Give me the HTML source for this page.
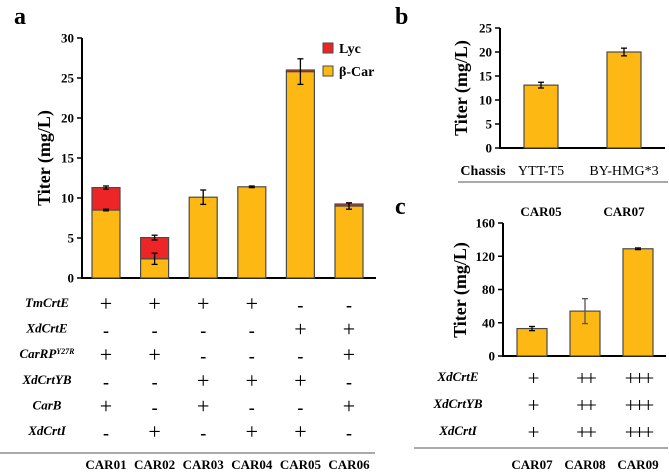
<!DOCTYPE html>
<html><head><meta charset="utf-8"><style>
html,body{margin:0;padding:0;background:#fff;}
svg{display:block;font-family:"Liberation Serif",serif;}
</style></head><body>
<svg id="s" width="669" height="476" viewBox="0 0 669 476"></svg>
<script>
// Panel a data
const aCats = ['CAR01','CAR02','CAR03','CAR04','CAR05','CAR06'];
const aCar = [8.5, 2.4, 10.1, 11.4, 25.8, 9.0];
const aLyc = [2.8, 2.65, 0, 0, 0.2, 0.25];
const aCarErr = [0.1, 0.7, 0.9, 0.1, 1.6, 0.4];
const aLycErr = [0.2, 0.3, 0, 0, 0, 0];
const aTicks = [0,5,10,15,20,25,30];
const aGenes = ['TmCrtE','XdCrtE','CarRP','XdCrtYB','CarB','XdCrtI'];
const aSigns = [['+','+','+','+','-','-'],['-','-','-','-','+','+'],['+','+','-','-','-','+'],['-','-','+','+','+','-'],['+','-','+','-','-','+'],['-','+','-','+','+','-']];
// Panel b data
const bCats = ['YTT-T5','BY-HMG*3'];
const bStrains = ['CAR05','CAR07'];
const bVals = [13.1, 20.0];
const bErr = [0.6, 0.8];
const bTicks = [0,5,10,15,20,25];
// Panel c data
const cCats = ['CAR07','CAR08','CAR09'];
const cVals = [33, 54, 129];
const cErr = [2.5, 15, 1];
const cTicks = [0,40,80,120,160];
const cGenes = ['XdCrtE','XdCrtYB','XdCrtI'];
const cSigns = [['+','++','+++'],['+','++','+++'],['+','++','+++']];

const S = document.getElementById('s');
const NS = 'http://www.w3.org/2000/svg';
function mk(tag, attrs, parent){const e=document.createElementNS(NS,tag);for(const k in attrs)e.setAttribute(k,attrs[k]);(parent||S).appendChild(e);return e;}
function txt(str, attrs, parent){const e=mk('text',attrs,parent);e.textContent=str;return e;}
const GOLD='#FDB813', RED='#EE2527', EDGE='#4a4a4a';

function axis(x0, y0, x1, yTop, ticks, max, name){
  const g=mk('g',{});
  
  
  const sy=v=>y0-(y0-yTop)*v/max;
  mk('line',{x1:x0,y1:yTop,x2:x0,y2:y0,stroke:'#000','stroke-width':2},g);
  mk('line',{x1:x0-1,y1:y0,x2:x1,y2:y0,stroke:'#000','stroke-width':2},g);
  ticks.forEach(t=>{
    mk('line',{x1:x0-5,y1:sy(t),x2:x0,y2:sy(t),stroke:'#000','stroke-width':1.5},g);
    const l=txt(String(t),{x:x0-8,y:sy(t)+4.5,'text-anchor':'end','font-size':13,'font-weight':'bold'},g);
    
    
  });
  return sy;
}
function ylabel(x,y,name){
  const t=txt('Titer (mg/L)',{x:x,y:y,'text-anchor':'middle','font-size':18,'font-weight':'bold',transform:`rotate(-90 ${x} ${y})`});
  
  
}
function errbar(cx,v,e,sy,col){
  if(e<=0.05){mk('line',{x1:cx-3,y1:sy(v),x2:cx+3,y2:sy(v),stroke:col||'#000','stroke-width':2});return;}
  const g=mk('g',{stroke:col||'#000','stroke-width':1.3});
  
  
  mk('line',{x1:cx,y1:sy(v+e),x2:cx,y2:sy(v-e)},g);
  mk('line',{x1:cx-3,y1:sy(v+e),x2:cx+3,y2:sy(v+e)},g);
  mk('line',{x1:cx-3,y1:sy(v-e),x2:cx+3,y2:sy(v-e)},g);
}
function bar(x,w,v0,v1,sy,fill,name){
  const r=mk('rect',{x:x,y:sy(v1),width:w,height:sy(v0)-sy(v1),fill:fill,stroke:EDGE,'stroke-width':1.2});
  
  
}

// ---- Panel a
let pl=txt('a',{x:14,y:24,'font-size':24,'font-weight':'bold'});

const syA=axis(82,278,376,38,aTicks,30,'panel-a');
ylabel(50,158,'panel-a-y-axis-title');
const aStep=48.6, aX0=106, aW=28;
aCats.forEach((c,i)=>{
  const cx=aX0+aStep*i;
  bar(cx-aW/2,aW,0,aCar[i],syA,GOLD,'bar-bcar-'+c.toLowerCase());
  if(aLyc[i]>0) bar(cx-aW/2,aW,aCar[i],aCar[i]+aLyc[i],syA,RED,'bar-lyc-'+c.toLowerCase());
  if(aLycErr[i]>0) errbar(cx,aCar[i]+aLyc[i],aLycErr[i],syA);
  errbar(cx,aCar[i],aCarErr[i],syA);
  const l=txt(c,{x:cx,y:469,'text-anchor':'middle','font-size':13,'font-weight':'bold'});
  
  aSigns.forEach((row,r)=>{
    const s=txt(row[i],{x:cx,y:311+r*25.6,'text-anchor':'middle','font-size':row[i]=='+'?22:18,'font-weight':row[i]=='-'?'bold':'normal'});
    
  });
});
aGenes.forEach((g,r)=>{
  const t=txt('',{x:47,y:307+r*25.6,'text-anchor':'middle','font-size':13,'font-weight':'bold','font-style':'italic'});
  t.textContent=g;
  if(g==='CarRP'){const ts=mk('tspan',{'font-size':8,dy:-4},t);ts.textContent='Y27R';}
  
});
mk('line',{x1:0,y1:453,x2:375,y2:453,stroke:'#555','stroke-width':1});
// legend
const lg=mk('g',{});

mk('rect',{x:323,y:43,width:10,height:10,fill:RED,stroke:EDGE},lg);
txt('Lyc',{x:339,y:53,'font-size':14,'font-weight':'bold'},lg);
mk('rect',{x:323,y:66,width:10,height:10,fill:GOLD,stroke:EDGE},lg);
txt('β-Car',{x:339,y:76,'font-size':14,'font-weight':'bold'},lg);

// ---- Panel b
pl=txt('b',{x:395,y:24,'font-size':24,'font-weight':'bold'});

const syB=axis(500,148,665,28,bTicks,25,'panel-b');
ylabel(467,88,'panel-b-y-axis-title');
const bX=[541,624];
bVals.forEach((v,i)=>{
  bar(bX[i]-17,34,0,v,syB,GOLD,'bar-'+bStrains[i].toLowerCase());
  errbar(bX[i],v,bErr[i],syB);
  let t=txt(bCats[i],{x:bX[i],y:175,'text-anchor':'middle','font-size':14});
  
  t=txt(bStrains[i],{x:bX[i],y:216,'text-anchor':'middle','font-size':13,'font-weight':'bold'});
  
});
let ch=txt('Chassis',{x:483,y:175,'text-anchor':'middle','font-size':14,'font-weight':'bold'});

mk('line',{x1:458,y1:182,x2:668,y2:182,stroke:'#555','stroke-width':1});

// ---- Panel c
pl=txt('c',{x:395,y:214,'font-size':24,'font-weight':'bold'});

const syC=axis(503,356,666,223,cTicks,160,'panel-c');
ylabel(466,290,'panel-c-y-axis-title');
const cX=[532,585,638];
cVals.forEach((v,i)=>{
  bar(cX[i]-15,30,0,v,syC,GOLD,'bar-'+cCats[i].toLowerCase());
  errbar(cX[i],v,cErr[i],syC,i==1?'#555':'#000');
  const t=txt(cCats[i],{x:cX[i],y:469,'text-anchor':'middle','font-size':13,'font-weight':'bold'});
  
  cSigns.forEach((row,r)=>{
    const s=txt(row[i],{x:cX[i],y:385+r*27,'text-anchor':'middle','font-size':21,'letter-spacing':'-3'});
    
  });
});
cGenes.forEach((g,r)=>{
  const t=txt(g,{x:458,y:381+r*27,'text-anchor':'middle','font-size':13,'font-weight':'bold','font-style':'italic'});
  
});
mk('line',{x1:414,y1:448,x2:668,y2:448,stroke:'#555','stroke-width':1});
</script>
</body></html>
